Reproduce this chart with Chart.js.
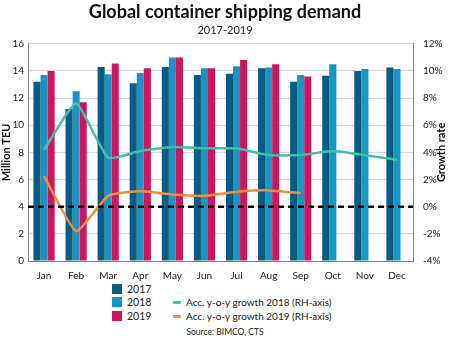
<!DOCTYPE html>
<html><head><meta charset="utf-8">
<script src="https://cdn.jsdelivr.net/npm/chart.js@4/dist/chart.umd.min.js"></script>
<style>
html,body{margin:0;padding:0;background:#fff;font-family:Lato,"Open Sans",sans-serif;}
#wrap{position:relative;width:450px;height:340px;}
#box{position:absolute;left:0;top:0;width:450px;height:282px;}
.lg{position:absolute;font-size:10.5px;color:#222;line-height:12px;white-space:nowrap;}
.sw{position:absolute;width:10px;height:10px;}
.ln{position:absolute;width:8px;height:3px;border-radius:1px;}
#src{position:absolute;left:0;width:450px;top:327px;text-align:center;font-size:8.5px;color:#222;}
</style></head>
<body><div id="wrap"><div id="box"><canvas id="c"></canvas></div>
<div class="sw" style="left:112px;top:284px;background:#0b5c80"></div><div class="lg" style="left:127px;top:283px">2017</div>
<div class="sw" style="left:112px;top:297px;background:#1497c7"></div><div class="lg" style="left:127px;top:296px">2018</div>
<div class="sw" style="left:112px;top:311px;background:#d5135c"></div><div class="lg" style="left:127px;top:310px">2019</div>
<div class="ln" style="left:173px;top:301px;background:#3fc0a8"></div><div class="lg" style="left:186px;top:296px;font-size:10px">Acc. y-o-y growth 2018 (RH-axis)</div>
<div class="ln" style="left:173px;top:315px;background:#f58b3b"></div><div class="lg" style="left:186px;top:310px;font-size:10px">Acc. y-o-y growth 2019 (RH-axis)</div>
<div id="src">Source: BIMCO, CTS</div>
</div>
<script>
const months = ["Jan","Feb","Mar","Apr","May","Jun","Jul","Aug","Sep","Oct","Nov","Dec"];
const teu2017 = [13.2,11.2,14.3,13.1,14.3,13.7,13.8,14.2,13.2,13.65,14.0,14.25];
const teu2018 = [13.7,12.5,13.75,13.85,15.0,14.2,14.35,14.25,13.7,14.5,14.15,14.15];
const teu2019 = [14.0,11.7,14.55,14.2,15.0,14.2,14.8,14.5,13.6,null,null,null];
const growth2018 = [4.2,7.6,3.6,4.1,4.4,4.3,4.3,3.8,3.8,4.1,3.8,3.45];
const growth2019 = [2.25,-1.8,0.8,1.15,0.9,0.8,1.1,1.2,1.0,null,null,null];
const leftTicks = [0,2,4,6,8,10,12,14,16];
const rightTicks = [-4,-2,0,2,4,6,8,10,12];

const extras = {
  id:'extras',
  afterDatasetsDraw(chart){
    const {ctx, chartArea:a, scales} = chart;
    const y = scales.y2.getPixelForValue(0);
    ctx.save();
    ctx.strokeStyle='#000'; ctx.lineWidth=2.5; ctx.setLineDash([6,4]);
    ctx.beginPath(); ctx.moveTo(a.left,y); ctx.lineTo(a.right,y); ctx.stroke();
    ctx.restore();
  },
  afterDraw(chart){
    const {ctx, chartArea:a} = chart;
    ctx.save();
    ctx.translate(441,(a.top+a.bottom)/2);
    ctx.rotate(-Math.PI/2);
    ctx.font='bold 11px Lato'; ctx.fillStyle='#111'; ctx.textAlign='center'; ctx.textBaseline='middle';
    ctx.fillText('Growth rate',0,0);
    ctx.restore();
  }
};

new Chart(document.getElementById('c'),{
  data:{labels:months,datasets:[
    {type:'line',label:'Acc. y-o-y growth 2018 (RH-axis)',data:growth2018,yAxisID:'y2',borderColor:'#3fc0a8',borderWidth:2.5,pointRadius:0,tension:0.15,order:0},
    {type:'line',label:'Acc. y-o-y growth 2019 (RH-axis)',data:growth2019,yAxisID:'y2',borderColor:'#f58b3b',borderWidth:2.5,pointRadius:0,tension:0.15,order:0},
    {type:'bar',label:'2017',data:teu2017,backgroundColor:'#0b5c80',yAxisID:'y',order:1,barPercentage:1,categoryPercentage:0.66},
    {type:'bar',label:'2018',data:teu2018,backgroundColor:'#1497c7',yAxisID:'y',order:1,barPercentage:1,categoryPercentage:0.66},
    {type:'bar',label:'2019',data:teu2019,backgroundColor:'#d5135c',yAxisID:'y',order:1,barPercentage:1,categoryPercentage:0.66}
  ]},
  options:{
    responsive:true,maintainAspectRatio:false,animation:false,
    layout:{padding:{top:0,left:0,right:0,bottom:0}},
    plugins:{
      legend:{display:false},tooltip:{enabled:false},
      title:{display:true,text:'Global container shipping demand',color:'#111',font:{family:'Lato',size:18,weight:'bold'},padding:{top:1,bottom:0}},
      subtitle:{display:true,text:'2017-2019',color:'#222',font:{family:'Lato',size:11},padding:{top:1,bottom:7}}
    },
    scales:{
      x:{grid:{display:false},border:{display:true,color:'#888',width:1},ticks:{color:'#222',font:{family:'Lato',size:10},padding:1,maxRotation:0,autoSkip:false},
         afterFit:s=>{s.height=21;}},
      y:{position:'left',min:0,max:16,afterBuildTicks:s=>{s.ticks=leftTicks.map(v=>({value:v}));},
         grid:{color:'#d8d8d8',lineWidth:1,borderDash:[2,2],drawTicks:false},border:{display:true,color:'#888',dash:[]},
         ticks:{color:'#222',font:{family:'Lato',size:10},padding:4},
         title:{display:true,text:'Million TEU',color:'#111',font:{family:'Lato',size:11,weight:'bold'},padding:0},
         afterFit:s=>{s.width=28;}},
      y2:{position:'right',min:-4,max:12,afterBuildTicks:s=>{s.ticks=rightTicks.map(v=>({value:v}));},
         grid:{display:false},border:{display:true,color:'#888'},
         ticks:{color:'#222',font:{family:'Lato',size:10},padding:2,callback:v=>v+'%'},
         afterFit:s=>{s.width=37;}}
    }
  },
  plugins:[extras]
});
</script></body></html>
